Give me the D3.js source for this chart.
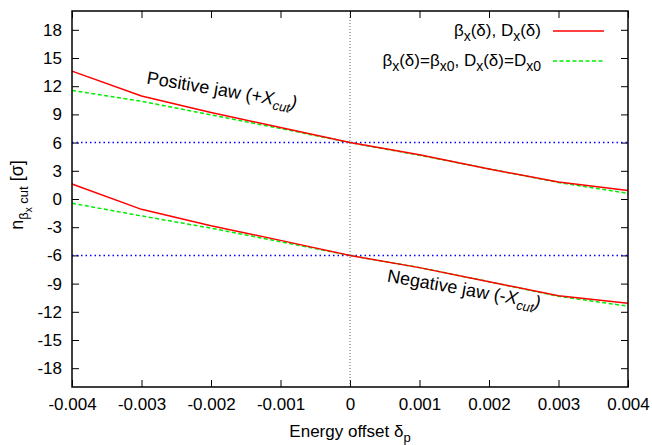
<!DOCTYPE html>
<html>
<head>
<meta charset="utf-8">
<script src="https://cdn.jsdelivr.net/npm/d3@7"></script>
<style>
  body { margin: 0; background: #fff; }
  svg { font-family: "Liberation Sans", Arial, sans-serif; }
</style>
</head>
<body>
<div id="chart"></div>
<script>
// Energy offset values (x) and the four curves
const offsets = [-0.004, -0.003, -0.002, -0.001, 0, 0.001, 0.002, 0.003, 0.004];
const posJawFull = [13.6, 10.95, 9.2, 7.6, 6.0, 4.7, 3.2, 1.8, 0.9];
const posJawConst = [11.55, 10.4, 8.95, 7.5, 6.0, 4.65, 3.2, 1.75, 0.6];
const negJawFull = [1.6, -1.1, -2.85, -4.4, -6.0, -7.3, -8.8, -10.3, -11.1];
const negJawConst = [-0.45, -1.8, -3.1, -4.55, -6.0, -7.3, -8.8, -10.35, -11.4];
const nominalCuts = [6, -6];
const xTicks = [-0.004, -0.003, -0.002, -0.001, 0, 0.001, 0.002, 0.003, 0.004];
const yTicks = [-18, -15, -12, -9, -6, -3, 0, 3, 6, 9, 12, 15, 18];

const width = 652, height = 445;
const margin = { top: 11, right: 24, bottom: 58, left: 72 };

const svg = d3.select('#chart')
    .append('svg')
    .attr('width', width)
    .attr('height', height);

const x = d3.scaleLinear()
    .domain([-0.004, 0.004])
    .range([margin.left, width - margin.right]);

const y = d3.scaleLinear()
    .domain([-20, 20])
    .range([height - margin.bottom, margin.top]);

const fmtX = d => d === 0 ? '0' : d3.format('.3f')(d).replace('−', '-');

// Axes with inward ticks, mirrored on top and right
const tickLen = 7;
const styleAxis = g => {
    g.select('.domain').remove();
    g.selectAll('line').attr('stroke', '#000').attr('stroke-width', 1);
    g.selectAll('text').attr('font-size', '17px').attr('fill', '#000');
};

svg.append('g')
    .attr('transform', `translate(0,${y(-20)})`)
    .call(d3.axisBottom(x).tickValues(xTicks).tickSize(-tickLen).tickPadding(11).tickFormat(fmtX))
    .call(styleAxis);

svg.append('g')
    .attr('transform', `translate(0,${y(20)})`)
    .call(d3.axisTop(x).tickValues(xTicks).tickSize(-tickLen).tickFormat(''))
    .call(styleAxis);

svg.append('g')
    .attr('transform', `translate(${x(-0.004)},0)`)
    .call(d3.axisLeft(y).tickValues(yTicks).tickSize(-tickLen).tickPadding(10).tickFormat(d => String(d)))
    .call(styleAxis);

svg.append('g')
    .attr('transform', `translate(${x(0.004)},0)`)
    .call(d3.axisRight(y).tickValues(yTicks).tickSize(-tickLen).tickFormat(''))
    .call(styleAxis);

// Vertical dotted line at zero offset
svg.append('line')
    .attr('x1', x(0)).attr('x2', x(0))
    .attr('y1', y(20)).attr('y2', y(-20))
    .attr('stroke', '#666')
    .attr('stroke-width', 1)
    .attr('stroke-dasharray', '1,2');

// Nominal cut levels (blue dotted)
svg.selectAll('.nominal')
    .data(nominalCuts)
    .enter()
    .append('line')
    .attr('class', 'nominal')
    .attr('x1', x(-0.004)).attr('x2', x(0.004))
    .attr('y1', d => y(d)).attr('y2', d => y(d))
    .attr('stroke', '#0000ff')
    .attr('stroke-width', 1.5)
    .attr('stroke-dasharray', '1.5,3');

const line = d3.line()
    .x((d, i) => x(offsets[i]))
    .y(d => y(d));

// Constant optics curves (green dashed)
[posJawConst, negJawConst].forEach(vals => {
    svg.append('path')
        .datum(vals)
        .attr('fill', 'none')
        .attr('stroke', '#00ee00')
        .attr('stroke-width', 1.5)
        .attr('stroke-dasharray', '4,2.5')
        .attr('d', line);
});

// Full chromatic curves (red)
[posJawFull, negJawFull].forEach(vals => {
    svg.append('path')
        .datum(vals)
        .attr('fill', 'none')
        .attr('stroke', '#ff0000')
        .attr('stroke-width', 1.5)
        .attr('d', line);
});

// Border
svg.append('rect')
    .attr('x', x(-0.004)).attr('y', y(20))
    .attr('width', x(0.004) - x(-0.004))
    .attr('height', y(-20) - y(20))
    .attr('fill', 'none')
    .attr('stroke', '#000')
    .attr('stroke-width', 1.5);

// Jaw labels, rotated along the curves
function jawLabel(cx, cy, angle, main, sign) {
    const t = svg.append('text')
        .attr('transform', `translate(${cx},${cy}) rotate(${angle})`)
        .attr('text-anchor', 'middle')
        .attr('font-size', '18px')
        .attr('fill', '#000');
    t.append('tspan').text(main + ' (' + sign);
    t.append('tspan').attr('font-style', 'italic').text('X');
    t.append('tspan').attr('font-style', 'italic').attr('font-size', '13px').attr('dy', 5).text('cut');
    t.append('tspan').attr('font-style', 'italic').attr('dy', -5).text(')');
}
jawLabel(221, 96, 9.5, 'Positive jaw', '+');
jawLabel(463, 295, 10, 'Negative jaw', '-');

// Legend
const legend = svg.append('g');
const legendRows = [
    { y: 31, color: '#ff0000', dash: null,
      parts: [['β', 0], ['x', 1], ['(δ), D', 0], ['x', 1], ['(δ)', 0]] },
    { y: 61, color: '#00ee00', dash: '4,2.5',
      parts: [['β', 0], ['x', 1], ['(δ)=β', 0], ['x0', 1], [', D', 0], ['x', 1], ['(δ)=D', 0], ['x0', 1]] }
];
legendRows.forEach(row => {
    const t = legend.append('text')
        .attr('x', 541)
        .attr('y', row.y + 5)
        .attr('text-anchor', 'end')
        .attr('font-size', '17px')
        .attr('fill', '#000');
    let sub = false;
    row.parts.forEach(([s, isSub]) => {
        const dy = isSub && !sub ? 5 : (!isSub && sub ? -5 : 0);
        t.append('tspan')
            .attr('dy', dy)
            .attr('font-size', isSub ? '14px' : '17px')
            .text(s);
        sub = !!isSub;
    });
    legend.append('line')
        .attr('x1', 553).attr('x2', 604)
        .attr('y1', row.y).attr('y2', row.y)
        .attr('stroke', row.color)
        .attr('stroke-width', 1.5)
        .attr('stroke-dasharray', row.dash);
});

// Axis titles
const xTitle = svg.append('text')
    .attr('x', x(0))
    .attr('y', 437)
    .attr('text-anchor', 'middle')
    .attr('font-size', '17px');
xTitle.append('tspan').text('Energy offset δ');
xTitle.append('tspan').attr('font-size', '13px').attr('dy', 5).text('p');

const yTitle = svg.append('text')
    .attr('transform', `translate(23,${y(0) - 4}) rotate(-90)`)
    .attr('text-anchor', 'middle')
    .attr('font-size', '18px');
yTitle.append('tspan').text('n');
yTitle.append('tspan').attr('font-size', '13px').attr('dy', 5).text('β');
yTitle.append('tspan').attr('font-size', '10px').attr('dy', 4).text('x');
yTitle.append('tspan').attr('font-size', '13px').attr('dy', -4).text(' cut');
yTitle.append('tspan').attr('dy', -5).text(' [σ]');
</script>
</body>
</html>
